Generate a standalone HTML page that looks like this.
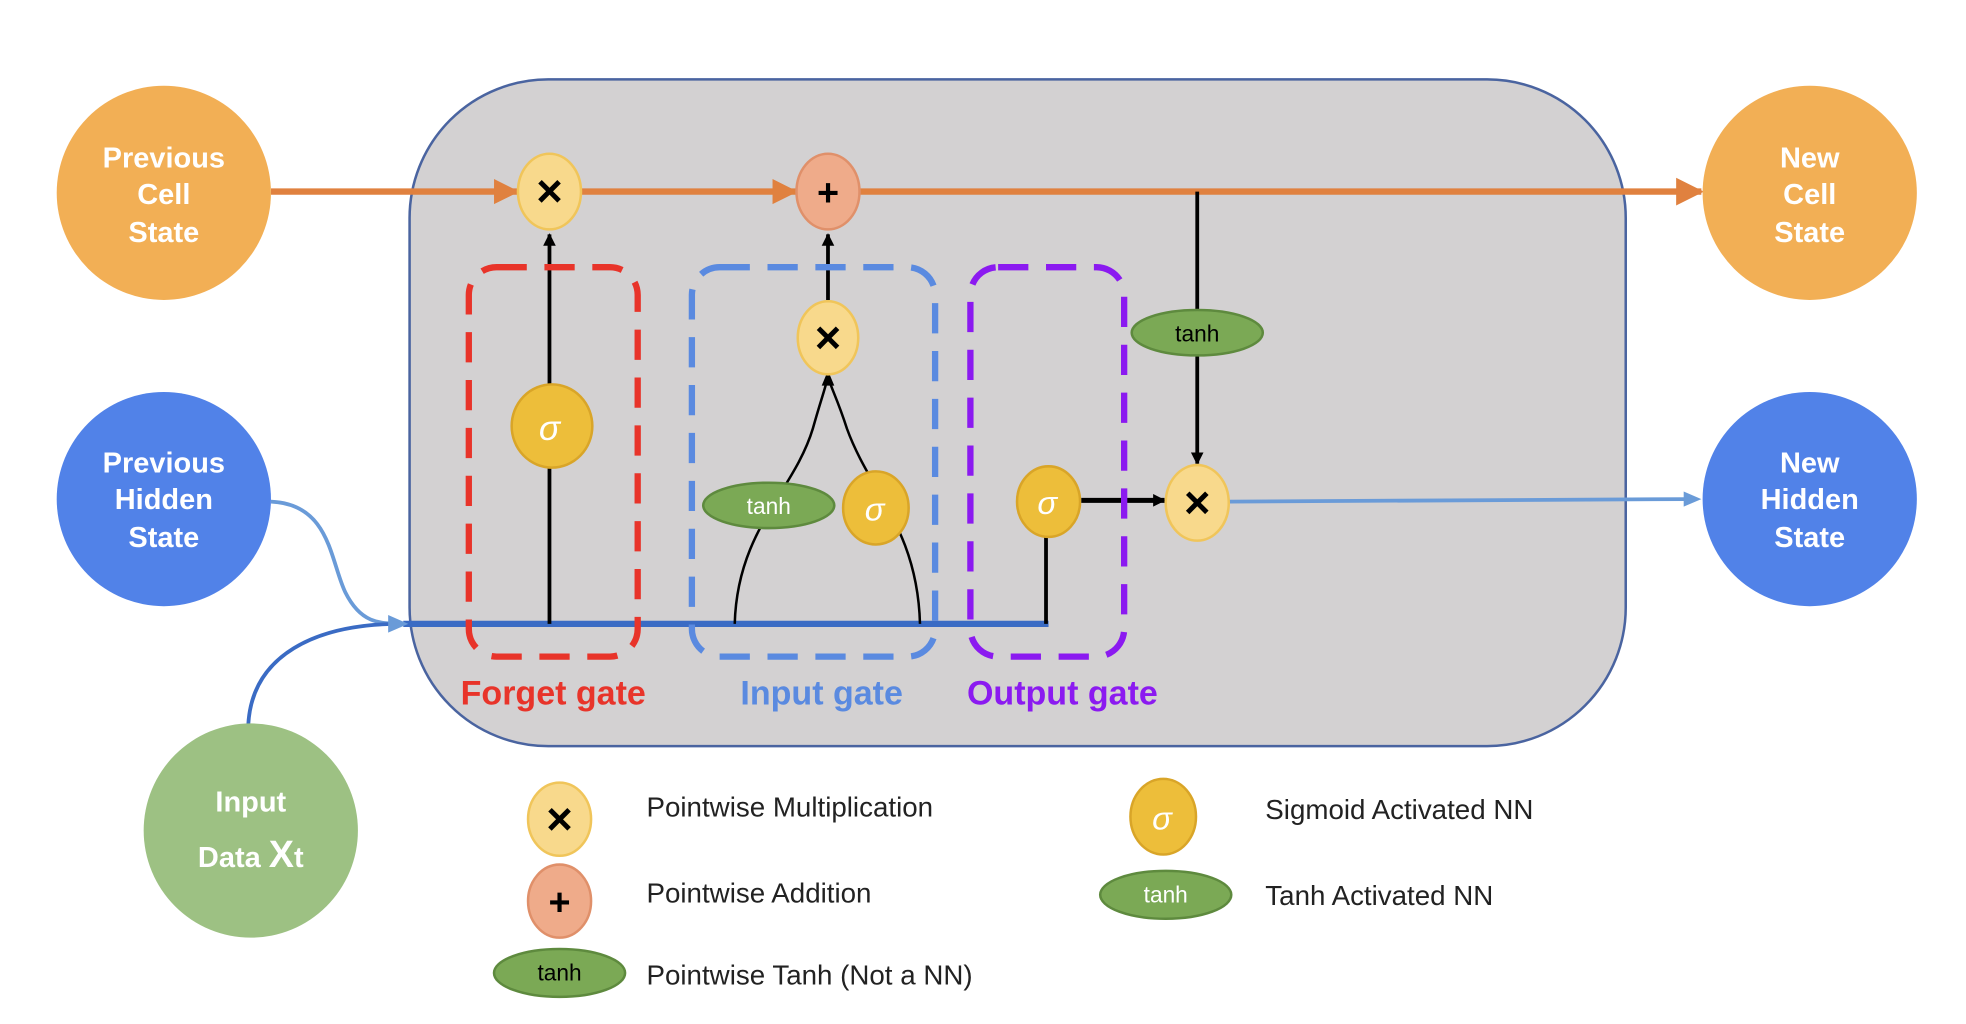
<!DOCTYPE html>
<html><head><meta charset="utf-8"><style>
html,body{margin:0;padding:0;background:#fff;}
svg{display:block;}
text{font-family:"Liberation Sans",sans-serif;}
</style></head><body>
<svg width="1966" height="1024" viewBox="0 0 1560 812.5" xmlns="http://www.w3.org/2000/svg">
<defs>
<marker id="ab" markerWidth="10" markerHeight="10" refX="9" refY="5" orient="auto" markerUnits="userSpaceOnUse"><path d="M0,0 L10,5 L0,10 z" fill="#000"/></marker>
</defs>
<rect x="325" y="63" width="965" height="529" rx="110" fill="#D3D1D2" stroke="#4A64A0" stroke-width="2"/>

<line x1="215" y1="152" x2="1350" y2="152" stroke="#E0813F" stroke-width="5"/>
<path d="M392,142 L412,152 L392,162 z" fill="#E0813F"/>
<path d="M613,142 L633,152 L613,162 z" fill="#E0813F"/>
<path d="M1330,141 L1352,152 L1330,163 z" fill="#E0813F"/>

<line x1="320" y1="495" x2="832" y2="495" stroke="#3A6BC4" stroke-width="5"/>
<path d="M215,398 C262,400 262,445 274,470 C286,494 300,495 320,495" fill="none" stroke="#6A9BD8" stroke-width="3"/>
<path d="M197,575 C200,520 250,495 318,495" fill="none" stroke="#3A6BC4" stroke-width="3"/>
<path d="M308,488 L324,495 L308,502 z" fill="#6A9BD8"/>

<line x1="436" y1="495" x2="436" y2="186" stroke="#000" stroke-width="3" marker-end="url(#ab)"/>
<ellipse cx="438" cy="338" rx="32" ry="33" fill="#EDBE3A" stroke="#D9A528" stroke-width="2"/>
<text x="436" y="349" font-size="28" font-style="italic" fill="#fff" text-anchor="middle" font-family="Liberation Serif,serif">σ</text>

<path d="M583,495 C585,420 630,390 645,340 C652,315 656,305 657,298" fill="none" stroke="#000" stroke-width="2"/>
<path d="M730,495 C728,420 690,390 672,340 C664,315 658,305 657,298" fill="none" stroke="#000" stroke-width="2"/>
<path d="M652,306 L657,294 L662,306 z" fill="#000"/>
<line x1="657" y1="238" x2="657" y2="186" stroke="#000" stroke-width="3" marker-end="url(#ab)"/>
<ellipse cx="610" cy="401" rx="52" ry="18" fill="#7BA955" stroke="#5E8A3E" stroke-width="2"/>
<text x="610" y="408" font-size="18" fill="#fff" text-anchor="middle">tanh</text>
<ellipse cx="695" cy="403" rx="26" ry="29" fill="#EDBE3A" stroke="#D9A528" stroke-width="2"/>
<text x="694" y="413" font-size="26" font-style="italic" fill="#fff" text-anchor="middle" font-family="Liberation Serif,serif">σ</text>
<ellipse cx="657" cy="268" rx="24" ry="29" fill="#F8D98C" stroke="#F0C55A" stroke-width="2"/>
<text x="657" y="280" font-size="36" font-weight="bold" fill="#000" text-anchor="middle">×</text>

<line x1="830" y1="495" x2="830" y2="420" stroke="#000" stroke-width="3"/>
<ellipse cx="832" cy="398" rx="25" ry="28" fill="#EDBE3A" stroke="#D9A528" stroke-width="2"/>
<text x="831" y="408" font-size="26" font-style="italic" fill="#fff" text-anchor="middle" font-family="Liberation Serif,serif">σ</text>
<line x1="858" y1="397" x2="924" y2="397" stroke="#000" stroke-width="4" marker-end="url(#ab)"/>
<line x1="950" y1="152" x2="950" y2="368" stroke="#000" stroke-width="3" marker-end="url(#ab)"/>
<ellipse cx="950" cy="264" rx="52" ry="18" fill="#7BA955" stroke="#5E8A3E" stroke-width="2"/>
<text x="950" y="271" font-size="18" fill="#000" text-anchor="middle">tanh</text>
<line x1="975" y1="398" x2="1338" y2="396" stroke="#6A9BD8" stroke-width="3"/>
<path d="M1336,390 L1350,396 L1336,402 z" fill="#6A9BD8"/>
<ellipse cx="950" cy="399" rx="25" ry="30" fill="#F8D98C" stroke="#F0C55A" stroke-width="2"/>
<text x="950" y="411" font-size="36" font-weight="bold" fill="#000" text-anchor="middle">×</text>

<ellipse cx="436" cy="152" rx="25" ry="30" fill="#F8D98C" stroke="#F0C55A" stroke-width="2"/>
<text x="436" y="164" font-size="36" font-weight="bold" fill="#000" text-anchor="middle">×</text>
<ellipse cx="657" cy="152" rx="25" ry="30" fill="#EFAB8A" stroke="#E0906A" stroke-width="2"/>
<text x="657" y="163" font-size="30" font-weight="bold" fill="#000" text-anchor="middle">+</text>

<rect x="372" y="212" width="134" height="309" rx="22" fill="none" stroke="#E8342A" stroke-width="5" stroke-dasharray="24 14"/>
<rect x="549" y="212" width="193" height="309" rx="22" fill="none" stroke="#5A8AE0" stroke-width="5" stroke-dasharray="24 14"/>
<rect x="770" y="212" width="122" height="309" rx="22" fill="none" stroke="#8B1AF0" stroke-width="5" stroke-dasharray="24 14"/>

<text x="439" y="559" font-size="27" font-weight="bold" fill="#E8342A" text-anchor="middle">Forget gate</text>
<text x="652" y="559" font-size="27" font-weight="bold" fill="#5A8AE0" text-anchor="middle">Input gate</text>
<text x="843" y="559" font-size="27" font-weight="bold" fill="#8B1AF0" text-anchor="middle">Output gate</text>

<circle cx="130" cy="153" r="85" fill="#F2AF55"/>
<text fill="#fff" font-size="23" font-weight="bold" text-anchor="middle"><tspan x="130" y="133">Previous</tspan><tspan x="130" y="162">Cell</tspan><tspan x="130" y="192">State</tspan></text>
<circle cx="1436" cy="153" r="85" fill="#F2AF55"/>
<text fill="#fff" font-size="23" font-weight="bold" text-anchor="middle"><tspan x="1436" y="133">New</tspan><tspan x="1436" y="162">Cell</tspan><tspan x="1436" y="192">State</tspan></text>
<circle cx="130" cy="396" r="85" fill="#5182E8"/>
<text fill="#fff" font-size="23" font-weight="bold" text-anchor="middle"><tspan x="130" y="375">Previous</tspan><tspan x="130" y="404">Hidden</tspan><tspan x="130" y="434">State</tspan></text>
<circle cx="1436" cy="396" r="85" fill="#5182E8"/>
<text fill="#fff" font-size="23" font-weight="bold" text-anchor="middle"><tspan x="1436" y="375">New</tspan><tspan x="1436" y="404">Hidden</tspan><tspan x="1436" y="434">State</tspan></text>
<circle cx="199" cy="659" r="85" fill="#9DC183"/>
<text x="199" y="644" fill="#fff" font-size="23" font-weight="bold" text-anchor="middle">Input</text>
<text x="199" y="688" fill="#fff" font-size="23" font-weight="bold" text-anchor="middle">Data <tspan font-size="30">X</tspan><tspan font-size="23">t</tspan></text>

<ellipse cx="444" cy="650" rx="25" ry="29" fill="#F8D98C" stroke="#F0C55A" stroke-width="2"/>
<text x="444" y="662" font-size="36" font-weight="bold" fill="#000" text-anchor="middle">×</text>
<text x="513" y="648" font-size="22" fill="#222">Pointwise Multiplication</text>
<ellipse cx="444" cy="715" rx="25" ry="29" fill="#EFAB8A" stroke="#E0906A" stroke-width="2"/>
<text x="444" y="726" font-size="30" font-weight="bold" fill="#000" text-anchor="middle">+</text>
<text x="513" y="716" font-size="22" fill="#222">Pointwise Addition</text>
<ellipse cx="444" cy="772" rx="52" ry="19" fill="#7BA955" stroke="#5E8A3E" stroke-width="2"/>
<text x="444" y="778" font-size="18" fill="#000" text-anchor="middle">tanh</text>
<text x="513" y="781" font-size="22" fill="#222">Pointwise Tanh (Not a NN)</text>
<ellipse cx="923" cy="648" rx="26" ry="30" fill="#EDBE3A" stroke="#D9A528" stroke-width="2"/>
<text x="922" y="658" font-size="26" font-style="italic" fill="#fff" text-anchor="middle" font-family="Liberation Serif,serif">σ</text>
<text x="1004" y="650" font-size="22" fill="#222">Sigmoid Activated NN</text>
<ellipse cx="925" cy="710" rx="52" ry="19" fill="#7BA955" stroke="#5E8A3E" stroke-width="2"/>
<text x="925" y="716" font-size="18" fill="#fff" text-anchor="middle">tanh</text>
<text x="1004" y="718" font-size="22" fill="#222">Tanh Activated NN</text>
</svg>
</body></html>
